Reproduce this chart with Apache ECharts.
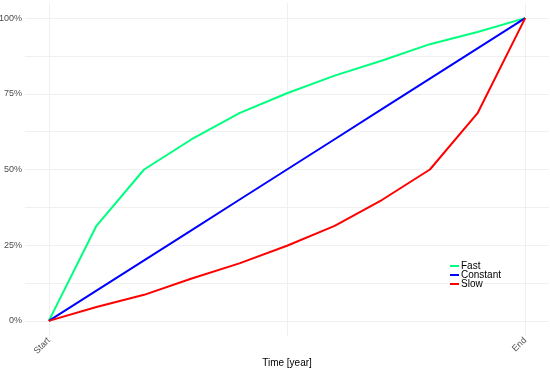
<!DOCTYPE html>
<html>
<head>
    <meta charset="utf-8">
    <title>Fast / Constant / Slow</title>
    <script src="https://cdn.jsdelivr.net/npm/echarts@6/dist/echarts.min.js"></script>
    <style>
        html, body { margin: 0; padding: 0; background: #fff; }
        #main { width: 550px; height: 371px; }
    </style>
</head>
<body>
<div id="main"></div>
<script type="text/javascript">
    // share of time elapsed (0 = Start, 1 = End)
    var timeSteps = [0, 0.1, 0.2, 0.3, 0.4, 0.5, 0.6, 0.7, 0.8, 0.9, 1];
    var fastValues = [0, 0.314, 0.50, 0.60, 0.686, 0.752, 0.81, 0.86, 0.914, 0.954, 1];
    var constantValues = [0, 0.1, 0.2, 0.3, 0.4, 0.5, 0.6, 0.7, 0.8, 0.9, 1];
    var slowValues = [0, 0.046, 0.086, 0.14, 0.19, 0.248, 0.314, 0.40, 0.50, 0.686, 1];
    var seriesNames = ['Fast', 'Constant', 'Slow'];
    var xTickLabels = {0: 'Start', 1: 'End'};
    var yTicks = [0, 0.25, 0.5, 0.75, 1];
    var yGrid = [0, 0.125, 0.25, 0.375, 0.5, 0.625, 0.75, 0.875, 1];
    var xGrid = [0, 0.5, 1];

    function pairs(vals) {
        return timeSteps.map(function (t, i) { return [t, vals[i]]; });
    }

    var myChart = echarts.init(document.getElementById('main'));
    var font = 'Liberation Sans, Arial, sans-serif';

    var option = {
        animation: false,
        backgroundColor: '#ffffff',
        color: ['#00FF7F', '#0000FF', '#FF0000'],
        grid: {left: 25, right: 1, top: 3, bottom: 35, outerBoundsMode: 'none'},
        legend: {
            data: seriesNames,
            orient: 'vertical',
            left: 445,
            top: 256,
            itemGap: -1,
            itemWidth: 9,
            itemHeight: 2,
            icon: 'rect',
            textStyle: {fontFamily: font, fontSize: 10, color: '#000', lineHeight: 8, padding: [0, 0, 0, -3]}
        },
        xAxis: {
            type: 'value',
            min: -0.05,
            max: 1.05,
            name: 'Time [year]',
            nameLocation: 'middle',
            nameGap: 22,
            nameMoveOverlap: false,
            nameTextStyle: {fontFamily: font, fontSize: 10, color: '#000'},
            axisLine: {show: false},
            axisTick: {show: false, customValues: xGrid},
            axisLabel: {
                customValues: [0, 1],
                rotate: 45,
                margin: 3,
                fontFamily: font,
                fontSize: 9,
                color: '#4D4D4D',
                formatter: function (v) { return xTickLabels[v] || ''; }
            },
            splitLine: {show: true, customValues: xGrid, lineStyle: {color: '#F0F0F0', width: 1}}
        },
        yAxis: {
            type: 'value',
            min: -0.05,
            max: 1.05,
            axisLine: {show: false},
            axisTick: {show: false, customValues: yGrid},
            axisLabel: {
                customValues: yTicks,
                margin: 3,
                fontFamily: font,
                fontSize: 9,
                color: '#4D4D4D',
                formatter: function (v) { return Math.round(v * 100) + '%'; }
            },
            splitLine: {show: true, customValues: yGrid, lineStyle: {color: '#F0F0F0', width: 1}}
        },
        series: [
            {name: 'Fast', type: 'line', data: pairs(fastValues), showSymbol: false, lineStyle: {width: 2}},
            {name: 'Constant', type: 'line', data: pairs(constantValues), showSymbol: false, lineStyle: {width: 2}},
            {name: 'Slow', type: 'line', data: pairs(slowValues), showSymbol: false, lineStyle: {width: 2}}
        ]
    };

    myChart.setOption(option);
</script>
</body>
</html>
